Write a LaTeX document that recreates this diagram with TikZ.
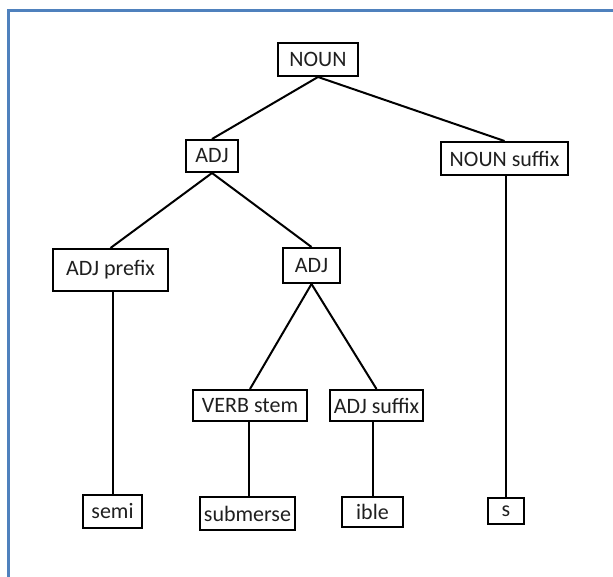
\documentclass[tikz,border=0pt]{standalone}
\usepackage{fontspec}
\setmainfont{Carlito}
\definecolor{frameblue}{HTML}{4F81BD}
\begin{document}
\begin{tikzpicture}[x=1pt,y=-1pt,
  box/.style={draw=black,line width=2pt,inner sep=0pt,font=\fontsize{22}{26}\selectfont,text=black!88},
  link/.style={draw=black,line width=2pt}]
\useasboundingbox (0,0) rectangle (613,577);
\draw[frameblue,line width=3pt] (8.5,577) -- (8.5,10.5) -- (613,10.5);
\node[box,minimum width=80pt,minimum height=33pt] (noun) at (318,59.5) {NOUN};
\node[box,minimum width=52pt,minimum height=32pt] (adj1) at (212,156) {ADJ};
\node[box,minimum width=127pt,minimum height=33pt] (nsuf) at (504.5,158.5) {NOUN suffix};
\node[box,minimum width=115pt,minimum height=42pt] (apre) at (110.5,270) {ADJ prefix};
\node[box,minimum width=57pt,minimum height=35pt] (adj2) at (311.5,265.5) {ADJ};
\node[box,minimum width=114pt,minimum height=31pt] (vstem) at (250,405.5) {VERB stem};
\node[box,minimum width=93pt,minimum height=31pt] (asuf) at (376.5,405.5) {ADJ suffix};
\node[box,minimum width=59pt,minimum height=33pt] (semi) at (112.5,511.5) {semi};
\node[box,minimum width=95pt,minimum height=33pt] (subm) at (247.5,513.5) {submerse};
\node[box,minimum width=61pt,minimum height=30pt] (ible) at (372.5,512) {ible};
\node[box,minimum width=36pt,minimum height=26pt] (s) at (506,511) {s};
\draw[link] (noun.south) -- (adj1.north);
\draw[link] (noun.south) -- (nsuf.north);
\draw[link] (adj1.south) -- (apre.north);
\draw[link] (adj1.south) -- (adj2.north);
\draw[link] (adj2.south) -- (vstem.north);
\draw[link] (adj2.south) -- (asuf.north);
\draw[link] (semi.north) -- (semi.north |- apre.south);
\draw[link] (subm.north) ++(1.5,0) -- ([xshift=1.5pt]subm.north |- vstem.south);
\draw[link] (ible.north) -- (ible.north |- asuf.south);
\draw[link] (s.north) -- (s.north |- nsuf.south);
\end{tikzpicture}
\end{document}
